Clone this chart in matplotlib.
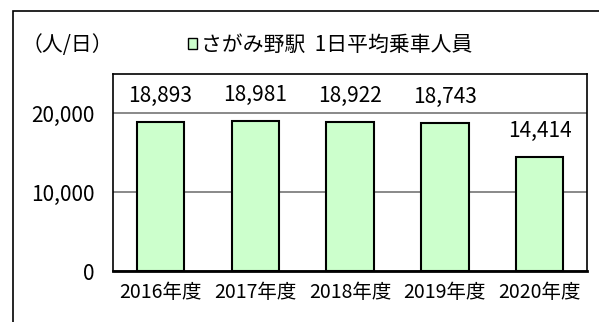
import matplotlib.pyplot as plt
from matplotlib.patches import Patch, Rectangle

plt.rcParams['font.family'] = ['Noto Sans CJK JP', 'DejaVu Sans']

# 1日平均乗車人員（さがみ野駅）
years = ["2016年度", "2017年度", "2018年度", "2019年度", "2020年度"]
riders = [18893, 18981, 18922, 18743, 14414]
yticks = [0, 10000, 20000]
ytick_labels = ["0", "10,000", "20,000"]

W, H = 599, 322


def main():
    fig = plt.figure(figsize=(W / 100, H / 100), dpi=100)
    # plot area in pixel terms: left 113, right 587, top 74, bottom 271
    ax = fig.add_axes([113 / W, 1 - 271 / H, (587 - 113) / W, (271 - 74) / H])

    # outer frame, cut off at the right and bottom edges
    fig.patches.append(Rectangle((13 / W, -0.1), 1.2, 1 - 11 / H + 0.1,
                                 transform=fig.transFigure, fill=False,
                                 edgecolor="black", linewidth=1.2))

    x = range(len(years))
    ax.bar(x, riders, width=0.5, color="#ccffcc", edgecolor="black",
           linewidth=1.5, zorder=3)
    for xi, v in zip(x, riders):
        ax.annotate(f"{v:,}", (xi, v), xytext=(0, 19), textcoords="offset points",
                    ha="center", va="center", fontsize=15)

    ax.set_xlim(-0.5, len(years) - 0.5)
    ax.set_ylim(0, 25000)
    ax.set_yticks(yticks)
    ax.set_yticklabels(ytick_labels, fontsize=15)
    ax.set_xticks(list(x))
    ax.set_xticklabels(years, fontsize=14)
    ax.tick_params(length=0, pad=13, axis="y")
    ax.tick_params(length=0, pad=8, axis="x")
    ax.grid(axis="y", color="#808080", linewidth=1.3, zorder=0)

    for side in ["top", "right", "left"]:
        ax.spines[side].set_linewidth(1.2)
    ax.spines["bottom"].set_linewidth(2)

    fig.text(22 / W, 1 - 45 / H, "（人/日）", fontsize=15, ha="left", va="center")
    fig.legend(handles=[Patch(facecolor="#ccffcc", edgecolor="black", linewidth=1)],
               labels=["さがみ野駅  1日平均乗車人員"], loc="center",
               bbox_to_anchor=(330 / W, 1 - 45 / H), frameon=False,
               fontsize=15, handlelength=0.45, handleheight=0.45,
               handletextpad=0.15)

    fig.savefig("out.png", dpi=100)


if __name__ == "__main__":
    main()
